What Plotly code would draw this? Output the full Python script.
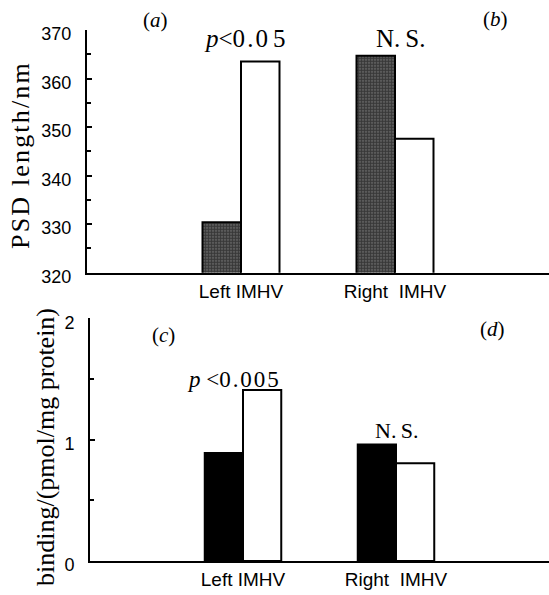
import plotly.graph_objects as go

# ---- data ----
groups = ["Left IMHV", "Right\u00a0\u00a0IMHV"]
group_pos = [0, 1]
psd_dark = [330.4, 364.7]
psd_white = [363.5, 347.6]
bind_dark = [0.89, 0.96]
bind_white = [1.41, 0.805]
psd_ticks = [320, 330, 340, 350, 360, 370]
bind_ticks = [0, 1, 2]

W, H = 549, 595
SERIF = "Liberation Serif, Times New Roman, serif"
SANS = "Liberation Sans, Arial, sans-serif"
TS = "\u2009"
HS = "\u200a"

def px(x):
    return x / W

def py(y):
    return 1 - y / H

fig = go.Figure()

# top panel bars
fig.add_trace(go.Bar(x=group_pos, y=psd_dark, width=0.25, offset=-0.25,
                     marker=dict(color="#555555",
                                 pattern=dict(shape=".", fgcolor="#000000", bgcolor="#707070",
                                              size=3, solidity=0.7),
                                 line=dict(color="black", width=2)),
                     xaxis="x", yaxis="y", showlegend=False))
fig.add_trace(go.Bar(x=group_pos, y=psd_white, width=0.25, offset=0,
                     marker=dict(color="white", line=dict(color="black", width=2)),
                     xaxis="x", yaxis="y", showlegend=False))
# bottom panel bars
fig.add_trace(go.Bar(x=group_pos, y=bind_dark, width=0.25, offset=-0.25,
                     marker=dict(color="black", line=dict(color="black", width=2)),
                     xaxis="x2", yaxis="y2", showlegend=False))
fig.add_trace(go.Bar(x=group_pos, y=bind_white, width=0.25, offset=0,
                     marker=dict(color="white", line=dict(color="black", width=2)),
                     xaxis="x2", yaxis="y2", showlegend=False))

xcommon = dict(range=[-1, 2], showline=True, linecolor="black", linewidth=2,
               ticks="", tickvals=group_pos, ticktext=groups, showgrid=False,
               zeroline=False, tickfont=dict(family=SANS, size=19, color="black"))
ycommon = dict(showline=True, linecolor="black", linewidth=2, ticks="inside",
               ticklen=5, tickwidth=2, tickcolor="black", showgrid=False,
               zeroline=False, tickfont=dict(family=SANS, size=18, color="black"),
               ticklabelstandoff=10, ticklabelshift=4)

fig.update_layout(
    width=W, height=H, margin=dict(l=0, r=0, t=0, b=0, autoexpand=False),
    paper_bgcolor="white", plot_bgcolor="white", barmode="overlay",
    xaxis=dict(domain=[px(87), 1], anchor="y", **xcommon),
    yaxis=dict(domain=[py(272.7), py(30)], anchor="x", range=[320, 370],
               tickvals=psd_ticks,
               minor=dict(ticks="inside", dtick=5, ticklen=4, tickwidth=2, tickcolor="black"),
               **ycommon),
    xaxis2=dict(domain=[px(90), 1], anchor="y2", **xcommon),
    yaxis2=dict(domain=[py(561), py(318.3)], anchor="x2", range=[0, 2],
                tickvals=bind_ticks,
                minor=dict(ticks="inside", dtick=0.5, ticklen=4, tickwidth=2, tickcolor="black"),
                **ycommon),
)

def ann(text, x, y, size=18, angle=0, family=SERIF):
    fig.add_annotation(text=text, x=px(x), y=py(y), xref="paper", yref="paper",
                       showarrow=False, textangle=angle, xanchor="center", yanchor="middle",
                       font=dict(family=family, size=size, color="black"))

ann(HS.join("PSD length/nm"), 21, 156, size=26, angle=-90)
ann("binding/(pmol/mg protein)", 45, 447, size=26, angle=-90)
ann("(<i>a</i>)", 155, 20, size=21)
ann("(<i>b</i>)", 495, 19, size=21)
ann("(<i>c</i>)", 163, 335, size=21)
ann("(<i>d</i>)", 492, 329, size=21)
ann("<i>p</i><0" + HS + "." + HS + "0" + TS + "5", 245, 38, size=25)
ann("N." + TS + "S.", 400, 38, size=25)
ann("<i>p</i> <0" + HS + "." + HS + "0" + HS + "0" + HS + "5", 233, 380, size=23)
ann("N." + TS + "S.", 397, 430, size=22)

fig.write_html("out.html", config={"displayModeBar": False},
               post_script="document.body.style.margin='0';")
